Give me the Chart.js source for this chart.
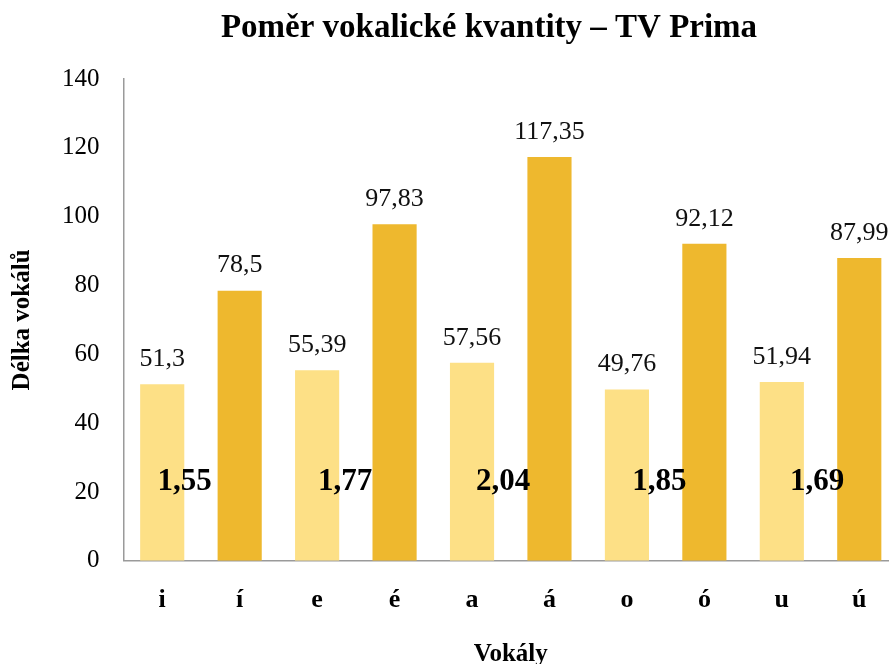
<!DOCTYPE html>
<html>
<head>
<meta charset="utf-8">
<script src="https://cdn.jsdelivr.net/npm/chart.js@4"></script>
<style>
  html, body { margin: 0; padding: 0; background: #fff; }
  #wrap { width: 889px; height: 664px; overflow: hidden; position: relative; }
</style>
</head>
<body>
<div id="wrap"><canvas id="chart" width="898" height="664"></canvas></div>
<script>
// Data
const vowels = ['i', 'í', 'e', 'é', 'a', 'á', 'o', 'ó', 'u', 'ú'];
const durations = [51.3, 78.5, 55.39, 97.83, 57.56, 117.35, 49.76, 92.12, 51.94, 87.99];
const durationLabels = ['51,3', '78,5', '55,39', '97,83', '57,56', '117,35', '49,76', '92,12', '51,94', '87,99'];
const ratios = ['1,55', '1,77', '2,04', '1,85', '1,69'];
const yTicks = [0, 20, 40, 60, 80, 100, 120, 140];
const chartTitle = 'Poměr vokalické kvantity – TV Prima';

// where each ratio label sits between its short and long bar (0 = short, 1 = long)
const ratioPlacement = [0.29, 0.36, 0.40, 0.42, 0.455];

const SHORT = '#FDE086';
const LONG = '#EEB82E';
const SERIF = '"Liberation Serif", "Times New Roman", serif';

// title, value labels above bars and ratio labels between pairs
const labelsPlugin = {
    id: 'labels',
    afterDatasetsDraw(chart) {
        const ctx = chart.ctx;
        const meta = chart.getDatasetMeta(0);
        const xs = chart.scales.x;
        const ys = chart.scales.y;
        ctx.save();
        ctx.textAlign = 'center';

        ctx.fillStyle = '#000';
        ctx.font = 'bold 33px ' + SERIF;
        ctx.textBaseline = 'alphabetic';
        ctx.fillText(chartTitle, 489, 37);

        ctx.fillStyle = '#111';
        ctx.textBaseline = 'bottom';
        ctx.font = '26px ' + SERIF;
        meta.data.forEach((bar, i) => {
            ctx.fillText(durationLabels[i], bar.x, bar.y - 12);
        });

        ctx.font = 'bold 31px ' + SERIF;
        ctx.textBaseline = 'alphabetic';
        ctx.fillStyle = '#000';
        ratios.forEach((r, k) => {
            const a = xs.getPixelForValue(2 * k);
            const b = xs.getPixelForValue(2 * k + 1);
            ctx.fillText(r, a + (b - a) * ratioPlacement[k], ys.getPixelForValue(20.5));
        });
        ctx.restore();
    }
};

new Chart(document.getElementById('chart'), {
    type: 'bar',
    data: {
        labels: vowels,
        datasets: [{
            data: durations,
            backgroundColor: vowels.map((v, i) => i % 2 === 0 ? SHORT : LONG),
            borderWidth: 0,
            categoryPercentage: 1,
            barPercentage: 0.57
        }]
    },
    options: {
        responsive: false,
        animation: false,
        layout: { padding: { left: 8, right: 0, top: 79, bottom: -6 } },
        plugins: {
            legend: { display: false },
            tooltip: { enabled: false },
            title: { display: false }
        },
        scales: {
            x: {
                grid: { display: false, drawTicks: false },
                border: { display: true, color: '#9a9a9a', width: 1.5 },
                ticks: {
                    color: '#000',
                    font: { family: SERIF, size: 26, weight: 'bold' },
                    padding: 24
                },
                title: {
                    display: true,
                    text: 'Vokály',
                    color: '#000',
                    font: { family: SERIF, size: 25, weight: 'bold' },
                    padding: { top: 0, bottom: 0 }
                }
            },
            y: {
                min: 0,
                max: 140,
                afterBuildTicks(axis) {
                    axis.ticks = yTicks.map(v => ({ value: v }));
                },
                grid: { display: false, drawTicks: false },
                border: { display: true, color: '#9a9a9a', width: 1.5 },
                ticks: {
                    color: '#000',
                    font: { family: SERIF, size: 25 },
                    padding: 24
                },
                title: {
                    display: true,
                    text: 'Délka vokálů',
                    color: '#000',
                    font: { family: SERIF, size: 25, weight: 'bold' },
                    padding: { top: 0, bottom: 0 }
                }
            }
        }
    },
    plugins: [labelsPlugin]
});
</script>
</body>
</html>
